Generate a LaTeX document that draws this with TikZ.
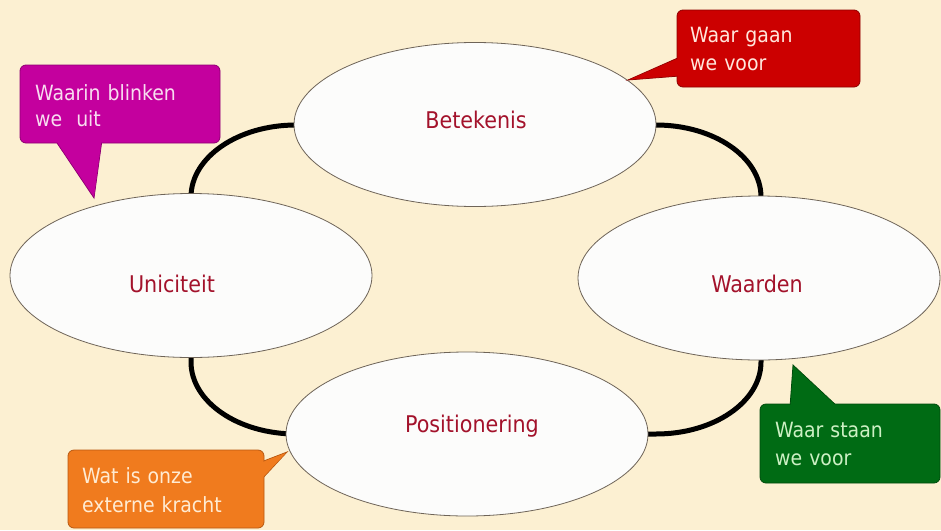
\documentclass[tikz,border=0pt]{standalone}
\usepackage{fontspec}
\setmainfont{DejaVu Sans Condensed}
\usetikzlibrary{shapes.geometric}
\definecolor{bg}{HTML}{FCF0D2}
\definecolor{ovalline}{HTML}{6E6458}
\definecolor{ovalfill}{HTML}{FCFCFB}
\definecolor{lblred}{HTML}{A3122B}
\definecolor{cmag}{HTML}{C4009E}
\definecolor{cmagd}{HTML}{8E0072}
\definecolor{cred}{HTML}{CC0000}
\definecolor{credd}{HTML}{8E0000}
\definecolor{cgreen}{HTML}{006B14}
\definecolor{cgreend}{HTML}{004A0C}
\definecolor{corange}{HTML}{F07B1E}
\definecolor{coranged}{HTML}{B85810}
\definecolor{tmag}{HTML}{F8DDF0}
\definecolor{tred}{HTML}{FFE6DC}
\definecolor{tgreen}{HTML}{CDF0C4}
\definecolor{torange}{HTML}{FFEBD2}
\begin{document}
\begin{tikzpicture}[x=1pt,y=-1pt,
  oval/.style={ellipse, draw=ovalline, line width=0.8pt, fill=ovalfill,
    minimum width=362pt, minimum height=164pt, inner sep=0pt},
  lbl/.style={text=lblred, font=\fontsize{23}{27}\selectfont, anchor=base, inner sep=0pt},
  cbox/.style={rectangle, rounded corners=6pt, line width=0.8pt, inner sep=0pt},
  ctail/.style={line width=0.8pt},
  ctext/.style={anchor=base west, inner sep=0pt, text width=180pt, align=left}]
\useasboundingbox (0,0) rectangle (941,530);
\fill[bg] (0,0) rectangle (941,530);

% ring
\draw[line width=5pt] (296,125) -- (656,125)
  arc[start angle=270, end angle=360, x radius=105, y radius=72]
  -- (761,362)
  arc[start angle=0, end angle=90, x radius=105, y radius=72]
  -- (296,434)
  arc[start angle=90, end angle=180, x radius=105, y radius=72]
  -- (191,197)
  arc[start angle=180, end angle=270, x radius=105, y radius=72]
  -- cycle;

% ellipses
\node[oval] (bet) at (475,124.5) {};
\node[oval] (uni) at (191,275.5) {};
\node[oval] (waa) at (759,278) {};
\node[oval] (pos) at (467,434) {};

\node[lbl] (betl) at (476,128) {Betekenis};
\node[lbl] (unil) at (172,292) {Uniciteit};
\node[lbl] (waal) at (757,292) {Waarden};
\node[lbl] (posl) at (472,432) {Positionering};

% magenta callout
\filldraw[ctail, fill=cmag, draw=cmagd] (55,140) -- (94,198) -- (102,140) -- cycle;
\node[cbox, fill=cmag, draw=cmagd, minimum width=200pt, minimum height=78pt] (mbox) at (120,104) {};
\fill[cmag] (55.8,140) -- (94,196.5) -- (101.3,140) -- cycle;
\node[ctext, text=tmag, font=\fontsize{21}{26}\selectfont] (mtext) at (35,100) {Waarin blinken\\we\ \ uit};

% red callout
\filldraw[ctail, fill=cred, draw=credd] (680,57) -- (628,80) -- (680,76) -- cycle;
\node[cbox, fill=cred, draw=credd, minimum width=183pt, minimum height=77pt] (rbox) at (768.5,48.5) {};
\fill[cred] (680,57.8) -- (629.5,79.6) -- (680,75.3) -- cycle;
\node[ctext, text=tred, font=\fontsize{21}{28}\selectfont] (rtext) at (690,42) {Waar gaan\\we voor};

% green callout
\filldraw[ctail, fill=cgreen, draw=cgreend] (790,407) -- (793,365) -- (838,407) -- cycle;
\node[cbox, fill=cgreen, draw=cgreend, minimum width=180pt, minimum height=79pt] (gbox) at (850,443.5) {};
\fill[cgreen] (790.8,407) -- (793.6,366.5) -- (837,407) -- cycle;
\node[ctext, text=tgreen, font=\fontsize{21}{28}\selectfont] (gtext) at (775,437) {Waar staan\\we voor};

% orange callout
\filldraw[ctail, fill=corange, draw=coranged] (261,462) -- (287,452) -- (261,480) -- cycle;
\node[cbox, fill=corange, draw=coranged, minimum width=196pt, minimum height=78pt] (obox) at (166,489) {};
\fill[corange] (261,462.8) -- (285.5,453.2) -- (261,479.2) -- cycle;
\node[ctext, text=torange, font=\fontsize{21}{29}\selectfont] (otext) at (82,483) {Wat is onze\\externe kracht};
\end{tikzpicture}
\end{document}
